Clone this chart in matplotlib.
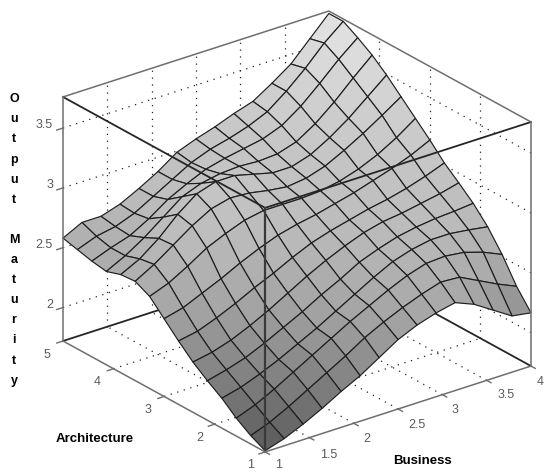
import numpy as np
import matplotlib
matplotlib.use("Agg")
import matplotlib.pyplot as plt
from matplotlib.colors import LinearSegmentedColormap
from mpl_toolkits.mplot3d import proj3d

business = [1 + 3 * k / 14 for k in range(15)]
architecture = [1 + 4 * k / 14 for k in range(15)]
output_maturity = [
    [1.73, 1.78, 1.85, 1.93, 2.02, 2.10, 2.20, 2.30, 2.37, 2.42, 2.455, 2.39, 2.29, 2.19, 2.165],
    [1.79, 1.85, 1.93, 2.02, 2.11, 2.20, 2.30, 2.38, 2.45, 2.51, 2.56, 2.55, 2.47, 2.39, 2.32],
    [1.87, 1.93, 2.01, 2.10, 2.19, 2.28, 2.37, 2.45, 2.53, 2.60, 2.65, 2.66, 2.64, 2.59, 2.52],
    [1.97, 2.01, 2.07, 2.14, 2.22, 2.30, 2.39, 2.48, 2.57, 2.65, 2.70, 2.73, 2.73, 2.71, 2.685],
    [2.05, 2.09, 2.14, 2.21, 2.29, 2.37, 2.46, 2.54, 2.63, 2.69, 2.74, 2.77, 2.79, 2.80, 2.815],
    [2.14, 2.17, 2.22, 2.29, 2.37, 2.46, 2.55, 2.63, 2.70, 2.76, 2.80, 2.82, 2.85, 2.88, 2.92],
    [2.25, 2.28, 2.34, 2.41, 2.49, 2.56, 2.64, 2.71, 2.76, 2.80, 2.84, 2.87, 2.91, 2.96, 3.02],
    [2.37, 2.41, 2.48, 2.55, 2.63, 2.70, 2.76, 2.80, 2.83, 2.87, 2.91, 2.96, 3.01, 3.07, 3.145],
    [2.49, 2.55, 2.64, 2.74, 2.81, 2.87, 2.90, 2.90, 2.90, 2.91, 2.94, 2.99, 3.06, 3.15, 3.26],
    [2.55, 2.64, 2.75, 2.86, 2.95, 2.99, 2.98, 2.95, 2.93, 2.95, 3.00, 3.08, 3.17, 3.27, 3.375],
    [2.54, 2.62, 2.74, 2.89, 3.01, 3.06, 3.06, 3.02, 2.98, 2.98, 3.03, 3.12, 3.23, 3.36, 3.49],
    [2.50, 2.58, 2.68, 2.80, 2.92, 2.98, 3.01, 3.02, 3.01, 3.02, 3.07, 3.17, 3.30, 3.45, 3.59],
    [2.52, 2.58, 2.63, 2.72, 2.83, 2.91, 2.98, 3.02, 3.05, 3.08, 3.14, 3.25, 3.39, 3.54, 3.67],
    [2.55, 2.61, 2.64, 2.70, 2.79, 2.88, 2.97, 3.03, 3.07, 3.12, 3.19, 3.31, 3.45, 3.61, 3.74],
    [2.58, 2.66, 2.66, 2.71, 2.79, 2.88, 2.99, 3.05, 3.10, 3.16, 3.21, 3.31, 3.42, 3.58, 3.74],
]
x_ticks = [1, 1.5, 2, 2.5, 3, 3.5, 4]
y_ticks = [1, 2, 3, 4, 5]
z_ticks = [2, 2.5, 3, 3.5]
x_ticklabels = ["1", "1.5", "2", "2.5", "3", "3.5", "4"]
y_ticklabels = ["1", "2", "3", "4", "5"]
z_ticklabels = ["2", "2.5", "3", "3.5"]
x_limits = (1, 4)
y_limits = (1, 5)
z_limits = (1.72, 3.76)

W, H = 544, 472
fig = plt.figure(figsize=(W / 100, H / 100), dpi=100)
ax = fig.add_axes([0, 0, 1, 1], projection="3d", proj_type="ortho")
ax.computed_zorder = False
ax.view_init(elev=24.9, azim=-127.5)
ax.set_xlim(*x_limits, view_margin=0)
ax.set_ylim(*y_limits, view_margin=0)
ax.set_zlim(*z_limits, view_margin=0)
ax.set_box_aspect((335, 332, 269))
ax.set_axis_off()
ax.patch.set_alpha(0)


def place():
    """Scale and shift the square axes so that the box corners land where they do in the reference."""
    for _ in range(3):
        fig.canvas.draw()
        M = ax.get_proj()
        def px(x, y, z):
            vx, vy, _z = proj3d.proj_transform(x, y, z, M)
            return ax.transData.transform((vx, vy))
        a = px(x_limits[0], y_limits[1], z_limits[0])
        b = px(x_limits[1], y_limits[0], z_limits[0])
        scale = 468.0 / (b[0] - a[0])
        pos = ax.get_position()
        l, bt = pos.x0 * W, pos.y0 * H
        w = pos.width * W
        neww = w * scale
        ax_x = (a[0] - l) * scale
        ax_y = (a[1] - bt) * scale
        newl = 63 - ax_x
        newb = (H - 341) - ax_y
        ax.set_position([newl / W, newb / H, neww / W, neww / H])


place()

x0, x1 = x_limits
y0, y1 = y_limits
z0, z1 = z_limits
GRAY = "#6e6e6e"
DARK = "#262626"
dot = dict(color="#222222", lw=0.9, ls=(0, (1, 4.5)), zorder=1)

for t in x_ticks[1:-1]:
    ax.plot([t, t], [y1, y1], [z0, z1], **dot)
    ax.plot([t, t], [y0, y1], [z0, z0], **dot)
for t in y_ticks[1:-1]:
    ax.plot([x1, x1], [t, t], [z0, z1], **dot)
    ax.plot([x0, x1], [t, t], [z0, z0], **dot)
for t in z_ticks:
    ax.plot([x0, x1], [y1, y1], [t, t], **dot)
    ax.plot([x1, x1], [y0, y1], [t, t], **dot)

ax.plot([x0, x1, x1], [y1, y1, y0], [z0, z0, z0], color=DARK, lw=1.3, zorder=2)

cmap = LinearSegmentedColormap.from_list(
    "g",
    [(0.0, "#585858"), (0.17, "#828282"), (0.33, "#a4a4a4"), (0.52, "#bcbcbc"),
     (0.72, "#cbcbcb"), (1.0, "#e4e4e4")],
)
X, Y = np.meshgrid(business, architecture)
Z = np.array(output_maturity)
ax.plot_surface(X, Y, Z, rstride=1, cstride=1, cmap=cmap, vmin=1.72, vmax=3.76,
                shade=False, edgecolor="#1e1e1e", linewidth=0.85, antialiased=True, zorder=3)

ax.plot([x0, x0, x1], [y1, y0, y0], [z1, z1, z1], color=DARK, lw=1.3, zorder=4)
ax.plot([x0, x0], [y0, y0], [z0, z1], color="#3a3a3a", lw=1.6, zorder=4)

ax.plot([x0, x1, x1], [y1, y1, y0], [z1, z1, z1], color=GRAY, lw=1.1, zorder=5)
ax.plot([x0, x0, x0, x1], [y1, y1, y0, y0], [z1, z0, z0, z0], color=GRAY, lw=1.1, zorder=5)
ax.plot([x1, x1], [y0, y0], [z0, z1], color=GRAY, lw=1.1, zorder=5)

for t in x_ticks:
    ax.plot([t, t], [y0, y0 - 0.085], [z0, z0], color=GRAY, lw=1.0, zorder=5)
for t in y_ticks:
    ax.plot([x0, x0 - 0.07], [t, t], [z0, z0], color=GRAY, lw=1.0, zorder=5)
for t in z_ticks:
    ax.plot([x0, x0 - 0.07], [y1, y1], [t, t], color=GRAY, lw=1.0, zorder=5)

ax.set_xlim(*x_limits, view_margin=0)
ax.set_ylim(*y_limits, view_margin=0)
ax.set_zlim(*z_limits, view_margin=0)
fig.canvas.draw()
M = ax.get_proj()


def v2(x, y, z):
    vx, vy, _ = proj3d.proj_transform(x, y, z, M)
    return vx, vy


tick_font = dict(family="Liberation Sans", fontsize=9, color="#5a5a5a",
                 textcoords="offset pixels", xycoords="data", ha="center", va="center", zorder=6)
x_off = [(13, -13), (19, -17), (13, -16), (19, -16), (13, -15), (19, -15), (9, -16)]
y_off = [(-15, -13), (-15, -14), (-16, -14), (-16, -13), (-16, -14)]
for t, s, o in zip(x_ticks, x_ticklabels, x_off):
    ax.annotate(s, xy=v2(t, y0, z0), xytext=o, annotation_clip=False, **tick_font)
for t, s, o in zip(y_ticks, y_ticklabels, y_off):
    ax.annotate(s, xy=v2(x0, t, z0), xytext=o, annotation_clip=False, **tick_font)
for t, s in zip(z_ticks, z_ticklabels):
    ax.annotate(s, xy=v2(x0, y1, t), xytext=(-10, 3), annotation_clip=False,
                **{**tick_font, "ha": "right"})

label_font = dict(family=["Liberation Sans Narrow", "Liberation Sans"], fontweight="bold",
                  fontsize=9.5, color="black")
fig.text(56 / W, 1 - 439 / H, "Architecture", ha="left", va="center", **label_font)
fig.text(393 / W, 1 - 461 / H, "Business", ha="left", va="center", **label_font)
fig.text(14 / W, 1 - 240 / H, "O\nu\nt\np\nu\nt\n\nM\na\nt\nu\nr\ni\nt\ny",
         ha="center", va="center", family="Liberation Sans", fontweight="bold",
         fontsize=9, linespacing=1.9, color="black")

fig.savefig("out.png", dpi=100)
